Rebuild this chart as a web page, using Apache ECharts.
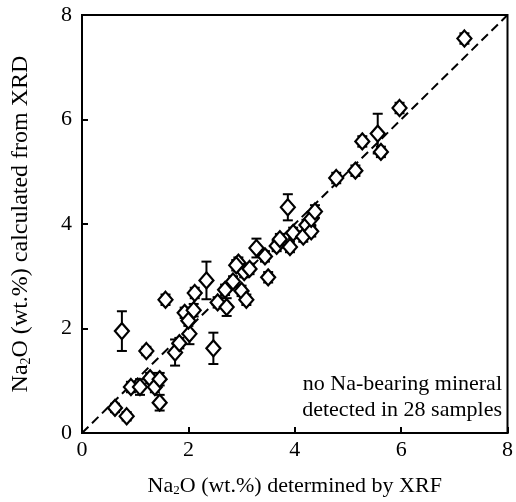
<!DOCTYPE html>
<html><head><meta charset="utf-8">
<script src="https://cdn.jsdelivr.net/npm/echarts@6/dist/echarts.min.js"></script>
<style>html,body{margin:0;padding:0;background:#fff}#c{width:516px;height:502px}</style>
</head><body><div id="c"></div>
<script>
// XRF-determined Na2O (x), XRD-calculated Na2O (y), error (± on y)
const xrf = [0.62,0.84,0.75,0.92,1.09,1.21,1.28,1.37,1.46,1.46,1.57,1.75,1.83,2.02,1.93,2.10,2.12,2.00,2.34,2.47,2.55,2.72,2.69,2.84,2.94,3.00,3.09,3.05,3.15,3.28,3.44,3.50,3.66,3.72,3.91,3.97,3.87,4.16,4.22,4.31,4.31,4.38,4.78,5.14,5.27,5.56,5.62,5.97,7.19,2.90];
const xrd = [0.48,0.32,1.95,0.88,0.88,1.57,1.05,0.88,1.03,0.58,2.55,1.54,1.72,1.90,2.30,2.35,2.68,2.15,2.92,1.62,2.50,2.41,2.74,2.90,3.26,2.72,2.55,3.08,3.14,3.54,3.38,2.98,3.58,3.71,3.56,3.83,4.32,3.76,3.98,3.86,4.10,4.24,4.88,5.02,5.58,5.73,5.38,6.22,7.55,3.21];
const err = [0.08,0.08,0.38,0.10,0.15,0.08,0.10,0.10,0.12,0.15,0.10,0.25,0.10,0.20,0.10,0.12,0.10,0.10,0.36,0.30,0.10,0.17,0.10,0.10,0.10,0.10,0.10,0.10,0.10,0.18,0.10,0.10,0.10,0.10,0.10,0.10,0.25,0.10,0.10,0.10,0.12,0.12,0.10,0.10,0.10,0.38,0.10,0.10,0.10,0.10];
const ticks = [0,2,4,6,8];
const oneToOne = [[0,0],[8,8]];

const pts = xrf.map((x,i)=>[x, xrd[i]]);
const bars = xrf.map((x,i)=>[x, xrd[i]-err[i], xrd[i]+err[i]]);
const FONT = '"Liberation Serif", "DejaVu Serif", serif';

const chart = echarts.init(document.getElementById('c'), null, {renderer:'canvas'});
chart.setOption({
  backgroundColor:'#fff',
  animation:false,
  grid:{left:82, right:8, top:15, bottom:67, show:true, borderColor:'#000', borderWidth:2, backgroundColor:'transparent'},
  xAxis:{type:'value', min:ticks[0], max:ticks[ticks.length-1], interval:2,
    axisLine:{show:true, lineStyle:{color:'#000', width:2}},
    axisTick:{show:true, inside:true, length:6, lineStyle:{color:'#000', width:2}},
    splitLine:{show:false},
    axisLabel:{color:'#000', fontFamily:FONT, fontSize:22, margin:6},
    name:'{a|Na}{s|2}{a|O (wt.%) determined by XRF}', nameLocation:'middle', nameGap:42,
    nameTextStyle:{rich:{a:{fontFamily:FONT, fontSize:22, color:'#000'}, s:{fontFamily:FONT, fontSize:13, color:'#000', verticalAlign:'bottom', padding:[9,0,0,0]}}}
  },
  yAxis:{type:'value', min:ticks[0], max:ticks[ticks.length-1], interval:2,
    axisLine:{show:true, lineStyle:{color:'#000', width:2}},
    axisTick:{show:true, inside:true, length:6, lineStyle:{color:'#000', width:2}},
    splitLine:{show:false},
    axisLabel:{color:'#000', fontFamily:FONT, fontSize:22, margin:10},
    name:'{a|Na}{s|2}{a|O (wt.%) calculated from XRD}', nameLocation:'middle', nameGap:49, nameRotate:90,
    nameTextStyle:{rich:{a:{fontFamily:FONT, fontSize:24, color:'#000'}, s:{fontFamily:FONT, fontSize:14, color:'#000', verticalAlign:'bottom', padding:[9,0,0,0]}}}
  },
  series:[
    {type:'line', data:oneToOne, symbol:'none', silent:true, z:1,
     lineStyle:{color:'#000', width:2, type:[9,5]}},
    {type:'custom', data:bars, z:2, silent:true,
     renderItem:function(params, api){
       const x = api.value(0), lo = api.value(1), hi = api.value(2);
       const pLo = api.coord([x, lo]), pHi = api.coord([x, hi]);
       const cw = 5;
       const st = {stroke:'#000', lineWidth:2, fill:null};
       return {type:'group', children:[
         {type:'line', shape:{x1:pLo[0], y1:pLo[1], x2:pHi[0], y2:pHi[1]}, style:st},
         {type:'line', shape:{x1:pHi[0]-cw, y1:pHi[1], x2:pHi[0]+cw, y2:pHi[1]}, style:st},
         {type:'line', shape:{x1:pLo[0]-cw, y1:pLo[1], x2:pLo[0]+cw, y2:pLo[1]}, style:st}
       ]};
     }},
    {type:'scatter', data:pts, symbol:'diamond', symbolSize:[14,16], z:3,
     itemStyle:{color:'#fff', borderColor:'#000', borderWidth:2.2, opacity:1}}
  ],
  graphic:[
    {type:'text', right:14, top:373, z:10, style:{text:'no Na-bearing mineral', font:'22px "Liberation Serif", serif', fill:'#000', textAlign:'right'}},
    {type:'text', right:14, top:399, z:10, style:{text:'detected in 28 samples', font:'22px "Liberation Serif", serif', fill:'#000', textAlign:'right'}}
  ]
});
</script></body></html>
